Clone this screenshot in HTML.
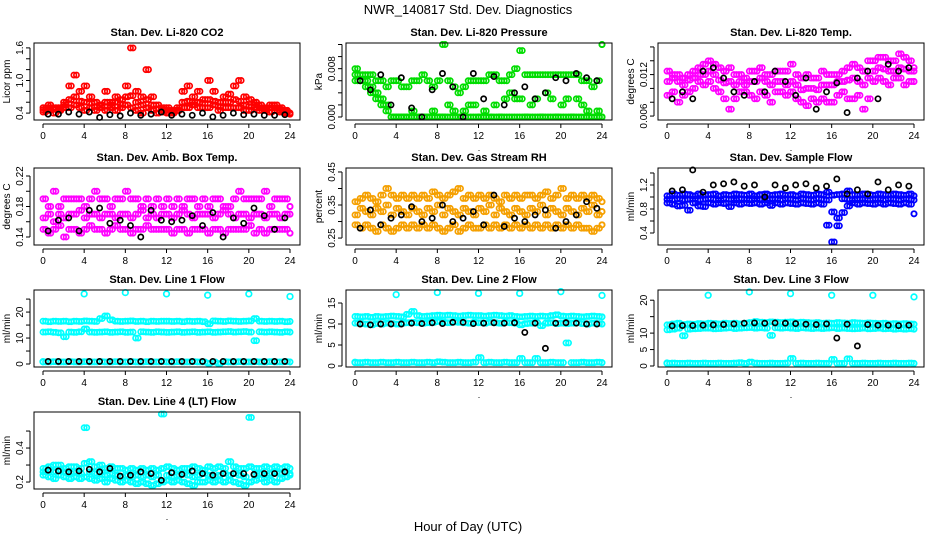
<!DOCTYPE html>
<html><head><meta charset="utf-8"><style>
body{margin:0;background:#fff}
svg{display:block;font-family:"Liberation Sans",sans-serif}
</style></head><body>
<svg id="c" width="936" height="540" viewBox="0 0 936 540">
<text x="468" y="14" text-anchor="middle" font-size="13">NWR_140817  Std. Dev. Diagnostics</text>
<text x="468" y="531" text-anchor="middle" font-size="13">Hour of Day (UTC)</text>
</svg>
<script>
// ---- data (half-hourly colored series t=0..24 step 0.5; black series t=0.5..23.5 hourly) ----
const hoursTicks=[0,4,8,12,16,20,24];
const co2Hi=[0.5,0.55,0.5,0.48,0.6,0.9,1.1,0.8,0.9,0.7,0.6,0.55,0.8,0.6,0.7,0.65,0.9,1.6,0.8,0.7,1.2,0.7,0.55,0.5,0.5,0.45,0.45,0.8,0.9,0.7,0.8,0.65,1.0,0.8,0.6,0.7,0.75,0.9,1.0,0.7,0.65,0.6,0.55,0.5,0.55,0.55,0.5,0.45,0.4];
const co2Lo=[0.42,0.45,0.4,0.45,0.5,0.5,0.55,0.5,0.45,0.5,0.45,0.5,0.45,0.5,0.45,0.5,0.55,0.5,0.45,0.4,0.5,0.45,0.4,0.42,0.4,0.4,0.45,0.5,0.5,0.55,0.5,0.5,0.5,0.55,0.45,0.5,0.5,0.5,0.5,0.45,0.45,0.5,0.45,0.45,0.42,0.45,0.42,0.4,0.38];
const co2Mid=[0.46,0.5,0.47,0.5,0.55,0.65,0.7,0.62,0.6,0.58,0.52,0.55,0.6,0.55,0.6,0.56,0.7,0.72,0.6,0.55,0.65,0.55,0.48,0.46,0.45,0.42,0.5,0.6,0.62,0.6,0.6,0.58,0.65,0.62,0.52,0.6,0.6,0.65,0.62,0.55,0.52,0.55,0.5,0.48,0.5,0.5,0.46,0.43,0.4];
const co2Blk=[0.38,0.38,0.42,0.38,0.42,0.32,0.37,0.35,0.4,0.36,0.38,0.42,0.36,0.38,0.36,0.4,0.33,0.36,0.4,0.37,0.38,0.36,0.36,0.37];
const prsHi=[0.008,0.007,0.007,0.007,0.006,0.006,0.005,0.006,0.006,0.005,0.005,0.006,0.006,0.007,0.006,0.005,0.006,0.012,0.006,0.005,0.004,0.005,0.006,0.006,0.006,0.006,0.007,0.007,0.006,0.006,0.007,0.008,0.011,0.007,0.007,0.007,0.007,0.007,0.007,0.007,0.007,0.007,0.007,0.007,0.006,0.006,0.005,0.006,0.012];
const prsLo=[0.006,0.006,0.005,0.005,0.004,0.003,0.002,0,0,0,0,0.001,0,0,0,0.001,0,0,0.002,0.001,0,0.001,0.002,0.002,0,0.001,0,0.002,0,0.003,0.004,0.003,0.003,0,0.002,0.003,0,0.004,0.003,0,0.002,0.003,0,0.003,0.002,0.001,0,0.001,0];
const prsMid=[0.007,0.006,0.006,0.004,0.003,0.002,0.001,0,0,0,0,0,0,0,0,0,0,0,0,0,0,0,0,0,0,0,0,0,0,0,0,0,0,0,0,0,0,0,0,0,0,0,0,0,0,0,0,0,0];
const prsBlk=[0.006,0.0045,0.007,0.002,0.0065,0.0015,0,0.0045,0.0072,0.005,0,0.0072,0.003,0.0067,0.002,0.004,0.005,0.003,0.004,0.0065,0.006,0.0072,0.0065,0.006];
const ltHi=[0.0125,0.012,0.012,0.0115,0.012,0.0125,0.013,0.0135,0.014,0.0135,0.013,0.0125,0.013,0.012,0.012,0.0115,0.0125,0.0125,0.013,0.012,0.012,0.0125,0.0125,0.0125,0.0135,0.012,0.0115,0.012,0.0115,0.0115,0.0125,0.012,0.012,0.012,0.0125,0.013,0.0135,0.013,0.0125,0.014,0.014,0.0145,0.0145,0.014,0.014,0.015,0.0145,0.014,0.013];
const ltLo=[0.009,0.0095,0.008,0.009,0.0095,0.01,0.011,0.0105,0.011,0.01,0.0095,0.0085,0.007,0.0085,0.0095,0.0095,0.009,0.0085,0.0095,0.009,0.008,0.0095,0.0095,0.009,0.0095,0.0085,0.008,0.0075,0.0085,0.008,0.0085,0.008,0.008,0.009,0.0095,0.0085,0.0085,0.009,0.007,0.0085,0.011,0.0115,0.011,0.0105,0.0115,0.0115,0.0105,0.011,0.011];
const ltMid=[0.011,0.0115,0.011,0.0105,0.0112,0.0115,0.012,0.012,0.0125,0.012,0.0112,0.0108,0.011,0.0105,0.011,0.0105,0.011,0.011,0.0115,0.011,0.0105,0.011,0.011,0.0105,0.011,0.0105,0.0098,0.01,0.01,0.0098,0.0105,0.0105,0.0105,0.011,0.011,0.0112,0.0115,0.011,0.0105,0.0115,0.0125,0.013,0.0128,0.0125,0.0125,0.013,0.0128,0.0125,0.0125];
const ltBlk=[0.0085,0.0095,0.0085,0.0125,0.013,0.0115,0.0095,0.009,0.011,0.0095,0.0125,0.011,0.009,0.0115,0.007,0.0095,0.0108,0.0065,0.0115,0.0125,0.0085,0.0135,0.0125,0.013];
const abHi=[0.19,0.18,0.2,0.18,0.19,0.19,0.19,0.19,0.18,0.19,0.2,0.19,0.19,0.18,0.19,0.19,0.2,0.19,0.19,0.18,0.19,0.18,0.19,0.18,0.19,0.18,0.19,0.18,0.19,0.19,0.18,0.19,0.18,0.19,0.19,0.18,0.18,0.19,0.2,0.19,0.19,0.19,0.19,0.2,0.18,0.19,0.19,0.19,0.18];
const abLo=[0.15,0.145,0.15,0.155,0.14,0.15,0.15,0.145,0.15,0.155,0.15,0.15,0.145,0.15,0.155,0.15,0.15,0.145,0.15,0.15,0.155,0.15,0.15,0.15,0.15,0.145,0.15,0.15,0.145,0.15,0.15,0.15,0.145,0.15,0.15,0.145,0.15,0.15,0.15,0.15,0.155,0.145,0.15,0.145,0.15,0.15,0.15,0.15,0.145];
const abMid=[0.165,0.17,0.16,0.17,0.165,0.17,0.17,0.175,0.165,0.17,0.17,0.165,0.17,0.17,0.165,0.17,0.17,0.165,0.17,0.175,0.165,0.17,0.165,0.17,0.17,0.165,0.17,0.175,0.17,0.165,0.17,0.17,0.17,0.165,0.17,0.175,0.17,0.165,0.17,0.17,0.165,0.17,0.17,0.165,0.17,0.17,0.165,0.17,0.17];
const abBlk=[0.148,0.162,0.165,0.148,0.175,0.178,0.158,0.162,0.155,0.14,0.175,0.162,0.16,0.162,0.168,0.155,0.172,0.14,0.165,0.158,0.178,0.168,0.15,0.165];
const rhHi=[0.36,0.37,0.38,0.37,0.36,0.38,0.4,0.38,0.37,0.38,0.37,0.38,0.37,0.38,0.37,0.39,0.38,0.37,0.38,0.39,0.4,0.37,0.38,0.37,0.38,0.37,0.38,0.37,0.36,0.38,0.37,0.38,0.37,0.38,0.38,0.37,0.38,0.39,0.37,0.38,0.4,0.37,0.38,0.37,0.38,0.37,0.38,0.37,0.36];
const rhLo=[0.29,0.28,0.29,0.28,0.27,0.29,0.28,0.27,0.28,0.29,0.28,0.29,0.28,0.29,0.28,0.29,0.28,0.27,0.28,0.29,0.27,0.28,0.29,0.28,0.28,0.29,0.28,0.29,0.28,0.29,0.28,0.29,0.28,0.29,0.28,0.29,0.28,0.29,0.28,0.29,0.28,0.29,0.28,0.29,0.28,0.28,0.27,0.28,0.29];
const rhMid=[0.32,0.34,0.33,0.32,0.34,0.33,0.35,0.32,0.34,0.33,0.32,0.34,0.33,0.32,0.34,0.33,0.35,0.32,0.34,0.33,0.32,0.34,0.33,0.32,0.34,0.33,0.35,0.32,0.34,0.33,0.32,0.34,0.33,0.32,0.34,0.33,0.35,0.32,0.34,0.33,0.32,0.34,0.33,0.32,0.34,0.33,0.35,0.32,0.33];
const rhBlk=[0.28,0.335,0.29,0.31,0.32,0.345,0.3,0.31,0.35,0.3,0.31,0.33,0.29,0.38,0.285,0.31,0.3,0.32,0.335,0.28,0.3,0.32,0.36,0.34];
const sfHi=[1.02,1.05,1.03,1.05,1.04,1.02,1.05,1.03,1.04,1.05,1.02,1.04,1.03,1.05,1.04,1.03,1.05,1.02,1.04,1.05,1.03,1.04,1.05,1.03,1.04,1.02,1.05,1.04,1.03,1.05,1.04,1.08,1.03,1.04,1.05,1.1,1.04,1.03,1.05,1.04,1.03,1.05,1.04,1.03,1.05,1.04,1.03,1.05,1.02];
const sfLo=[0.9,0.88,0.85,0.86,0.78,0.9,0.85,0.84,0.9,0.88,0.9,0.89,0.84,0.9,0.88,0.9,0.89,0.9,0.88,0.9,0.86,0.9,0.88,0.9,0.89,0.88,0.9,0.89,0.88,0.9,0.88,0.53,0.25,0.65,0.74,0.85,0.9,0.88,0.9,0.89,0.88,0.9,0.88,0.9,0.89,0.88,0.9,0.88,0.72];
const sfMid=[0.96,0.95,0.97,0.95,0.96,0.97,0.95,0.96,0.97,0.96,0.95,0.97,0.96,0.95,0.97,0.96,0.95,0.97,0.96,0.95,0.97,0.96,0.95,0.97,0.96,0.95,0.97,0.96,0.95,0.97,0.96,0.95,0.75,0.52,0.97,0.96,0.95,0.97,0.96,0.95,0.97,0.96,0.95,0.97,0.96,0.95,0.97,0.96,0.95];
const sfBlk=[1.1,1.12,1.45,1.08,1.2,1.22,1.25,1.18,1.2,1.0,1.2,1.15,1.2,1.22,1.15,1.18,1.3,1.05,1.12,1.05,1.25,1.12,1.2,1.18];
const l1Hi=[16.5,16.3,16.5,16.4,16.5,16.3,16.5,16.4,16.6,16.5,16.4,17.5,18.5,17,16.5,16.4,16.5,16.6,16.4,16.5,16.3,16.5,16.4,16.5,16.5,16.4,16.5,16.3,16.5,16.4,16.5,16.3,15.5,16.6,16.5,16.4,16.6,16.5,16.4,16.5,16.6,17.5,16.5,16.4,16.5,16.4,16.5,16.3,16.4];
const l1Mid=[12.3,12.4,12.2,12,10.5,12.3,12.2,12.4,13.5,12.3,12.2,12.3,12.4,12.2,12.3,12.4,12.2,12.3,10,12.4,12.3,12.2,12.4,12.3,12.2,12.3,12.4,12.2,12.3,12.4,12.2,12.3,12.4,12.2,12.3,12.4,12.5,12.3,12.4,12.5,12.3,9,12.4,12.3,12.4,12.3,12.2,12.4,12.3];
const l1Lo=[0.8,0.8,0.9,0.8,0.8,0.9,0.8,0.8,0.9,0.8,0.8,0.9,0.8,0.8,0.9,0.8,0.8,0.9,0.8,0.8,0.9,0.8,0.8,0.9,0.8,0.8,0.9,0.8,0.8,0.9,0.8,0.8,0.3,0.8,0.2,0.9,0.8,0.8,0.9,0.8,0.8,0.9,0.8,0.8,0.9,0.8,0.8,0.9,0.8];
const l1Spk=[0.9,27,27.5,27,26.5,27,26];
const l1Blk=[1,1,1,1,1,1,1,1,1,1,1,1,1,1,1,1,1,1,1,1,1,1,1,1];
const l2Hi=[11.8,11.7,11.8,11.6,11.8,11.7,11.8,11.9,11.8,11.7,12.3,13,12,11.8,11.9,12,12.1,12,12.1,12,11.9,12,12.1,12,12,11.9,12,12.1,12,11.9,12,11.8,11.7,11.8,11.9,11.8,11.9,11.8,12,12.2,11.9,11.8,11.9,11.8,11.7,11.8,11.9,11.8,11.7];
const l2Mid=[10.2,10.1,10,9.8,10.1,10,10.2,10.1,10,10.2,10.3,10.4,10.3,10.2,10.3,10.4,10.6,10.4,10.3,10.5,10.4,10.3,10.2,10.4,10.3,10.2,10.4,10.3,10.2,10.4,10.3,10.2,9.8,10.1,10.2,10.3,9.6,10.2,10.3,10.1,10.2,10.1,10.2,10.3,10.1,10,10.2,10.1,10];
const l2Lo=[0.8,0.8,0.9,0.8,0.8,0.9,0.8,0.8,0.9,0.8,0.8,0.9,0.8,0.8,0.9,0.8,1,0.9,0.8,0.8,0.9,0.8,0.8,0.9,2,0.8,0.9,0.8,0.8,0.9,0.8,0.8,1.8,0.8,0.8,1.8,0.8,0.8,0.9,0.8,0.8,5.5,0.8,0.8,0.9,0.8,0.8,0.9,0.8];
const l2Spk=[0.9,17,17.5,17.3,17.3,17.7,16.8];
const l2Blk=[10,9.8,10,10,10,10.2,10.1,10.3,10.1,10.4,10.4,10.1,10.2,10.3,10.2,10.3,8,10.2,4.2,10.2,10.3,10.2,10,10];
const l3Hi=[12.5,12.8,13,12.6,12.8,12.7,12.9,12.8,13,12.9,12.8,13,12.9,13,12.8,13,13.2,13.5,13.3,13.2,13.4,13.3,13.2,13.3,13.4,13.2,13.3,13.2,13.1,13.2,13,13.1,13,13.2,13.1,13,13.2,13.1,13,13.1,13,12.9,13,12.8,12.9,12.8,12.9,12.8,12.7];
const l3Mid=[11,11.2,11.5,9.2,11.2,11.3,11.4,11.5,11.5,11.3,11.4,11.5,11.6,11.4,11.5,11.6,11.7,11.5,11.6,11.5,9.3,11.6,11.5,11.6,11.5,11.4,11.6,11.5,11.4,11.5,11.4,11.5,11.6,11.4,11.5,11.4,11.3,11.4,11.5,11.3,11.4,11.5,11.3,11.4,11.2,11.3,11.2,11.3,11.2];
const l3Lo=[0.8,0.9,0.8,0.8,0.9,0.8,0.8,0.9,0.8,0.8,0.9,0.8,0.8,0.9,1,0.8,1.2,0.9,0.8,0.8,0.9,0.8,0.8,0.9,2.3,0.8,0.9,0.8,0.8,0.9,0.8,0.8,2,0.8,0.8,2.2,0.8,0.8,0.9,0.8,0.8,0.9,0.8,0.8,0.9,0.8,0.8,0.9,0.8];
const l3Spk=[0.9,21.5,22.5,22,21.5,21.5,21];
const l3Blk=[12.2,12.3,12.3,12.4,12.5,12.6,12.8,13,13.1,13,13.1,13,12.9,12.7,12.6,12.8,8.5,12.7,6.1,12.6,12.4,12.4,12.3,12.4];
const l4Hi=[0.28,0.29,0.3,0.3,0.28,0.29,0.29,0.28,0.31,0.32,0.29,0.3,0.28,0.29,0.28,0.28,0.27,0.28,0.27,0.28,0.27,0.28,0.27,0.28,0.29,0.28,0.27,0.28,0.28,0.29,0.28,0.27,0.29,0.28,0.29,0.28,0.32,0.29,0.28,0.28,0.29,0.28,0.28,0.29,0.28,0.29,0.28,0.29,0.28];
const l4Lo=[0.24,0.23,0.22,0.24,0.23,0.22,0.23,0.22,0.23,0.22,0.21,0.22,0.2,0.22,0.21,0.2,0.21,0.2,0.19,0.2,0.19,0.18,0.19,0.2,0.21,0.2,0.21,0.2,0.19,0.18,0.2,0.2,0.21,0.2,0.21,0.2,0.21,0.2,0.19,0.18,0.2,0.21,0.22,0.2,0.21,0.2,0.22,0.23,0.24];
const l4Mid=[0.26,0.27,0.26,0.27,0.26,0.25,0.26,0.25,0.52,0.26,0.25,0.26,0.24,0.25,0.24,0.23,0.24,0.23,0.24,0.23,0.24,0.23,0.24,0.6,0.24,0.23,0.24,0.25,0.24,0.23,0.24,0.25,0.24,0.23,0.24,0.25,0.24,0.25,0.24,0.23,0.58,0.24,0.25,0.24,0.25,0.26,0.25,0.26,0.25];
const l4Blk=[0.27,0.265,0.26,0.265,0.275,0.26,0.28,0.235,0.24,0.26,0.25,0.21,0.255,0.245,0.265,0.25,0.24,0.25,0.25,0.25,0.245,0.25,0.25,0.26];
// ---- tick labels ----
const p1Ticks=[0.4,0.6,0.8,1.0,1.2,1.4,1.6], p1Lab=["0.4","","","1.0","","","1.6"];
const p2Ticks=[0,0.002,0.004,0.006,0.008,0.010,0.012], p2Lab=["0.000","","","","0.008","",""];
const p3Ticks=[0.006,0.008,0.010,0.012,0.014,0.016], p3Lab=["0.006","","","0.012","",""];
const p4Ticks=[0.14,0.16,0.18,0.20,0.22], p4Lab=["0.14","","0.18","","0.22"];
const p5Ticks=[0.25,0.30,0.35,0.40,0.45], p5Lab=["0.25","","0.35","","0.45"];
const p6Ticks=[0.4,0.6,0.8,1.0,1.2,1.4], p6Lab=["0.4","","0.8","","1.2",""];
const p7Ticks=[0,5,10,15,20,25], p7Lab=["0","","10","","20",""];
const p8Ticks=[0,5,10,15], p8Lab=["0","5","10","15"];
const p9Ticks=[0,5,10,15,20], p9Lab=["0","5","10","","20"];
const p10Ticks=[0.2,0.3,0.4,0.5], p10Lab=["0.2","","0.4",""];

const NS="http://www.w3.org/2000/svg";
const svg=document.getElementById('c');
function mk(tag,attrs,parent){const e=document.createElementNS(NS,tag);for(const k in attrs)e.setAttribute(k,attrs[k]);(parent||svg).appendChild(e);return e;}
const colX=[34,346,658], rowY=[43,168,290,412], W=266, Hh=77;
const panels=[
 {t:"Stan. Dev. Li-820 CO2",yl:"Licor ppm",c:0,r:0,y0:0.273,y1:1.69,tk:p1Ticks,lb:p1Lab,col:"#ff0000",s:[co2Hi,co2Lo,co2Mid],b:co2Blk,n:"co2"},
 {t:"Stan. Dev. Li-820 Pressure",yl:"kPa",c:1,r:0,y0:-0.0005,y1:0.01225,tk:p2Ticks,lb:p2Lab,col:"#00dd00",s:[prsHi,prsLo,prsMid],b:prsBlk,n:"pressure"},
 {t:"Stan. Dev. Li-820 Temp.",yl:"degrees C",c:2,r:0,y0:0.00543,y1:0.01657,tk:p3Ticks,lb:p3Lab,col:"#ff00ff",s:[ltHi,ltLo,ltMid],b:ltBlk,n:"licor-temp"},
 {t:"Stan. Dev. Amb. Box Temp.",yl:"degrees C",c:0,r:1,y0:0.1295,y1:0.2305,tk:p4Ticks,lb:p4Lab,col:"#ff00ff",s:[abHi,abLo,abMid],b:abBlk,n:"box-temp"},
 {t:"Stan. Dev. Gas Stream RH",yl:"percent",c:1,r:1,y0:0.229,y1:0.462,tk:p5Ticks,lb:p5Lab,col:"#f5a000",s:[rhHi,rhLo,rhMid],b:rhBlk,n:"rh"},
 {t:"Stan. Dev. Sample Flow",yl:"ml/min",c:2,r:1,y0:0.2,y1:1.483,tk:p6Ticks,lb:p6Lab,col:"#0000ff",s:[sfHi,sfLo,sfMid],b:sfBlk,n:"sample-flow"},
 {t:"Stan. Dev. Line 1 Flow",yl:"ml/min",c:0,r:2,y0:-1.15,y1:28.5,tk:p7Ticks,lb:p7Lab,col:"#00ffff",s:[l1Hi,l1Mid,l1Lo],spk:l1Spk,b:l1Blk,n:"line1-flow"},
 {t:"Stan. Dev. Line 2 Flow",yl:"ml/min",c:1,r:2,y0:-0.24,y1:18.1,tk:p8Ticks,lb:p8Lab,col:"#00ffff",s:[l2Hi,l2Mid,l2Lo],spk:l2Spk,b:l2Blk,n:"line2-flow"},
 {t:"Stan. Dev. Line 3 Flow",yl:"ml/min",c:2,r:2,y0:-0.3,y1:23.1,tk:p9Ticks,lb:p9Lab,col:"#00ffff",s:[l3Hi,l3Mid,l3Lo],spk:l3Spk,b:l3Blk,n:"line3-flow"},
 {t:"Stan. Dev. Line 4 (LT) Flow",yl:"ml/min",c:0,r:3,y0:0.159,y1:0.612,tk:p10Ticks,lb:p10Lab,col:"#00ffff",s:[l4Hi,l4Lo,l4Mid],b:l4Blk,n:"line4-flow"}
];
panels.forEach(p=>{
 const L=colX[p.c], T=rowY[p.r], B=T+Hh;
 const g=mk('g',{});
 
 
 const xs=h=>L+9+h/24*(W-19);
 const ys=v=>B-(v-p.y0)/(p.y1-p.y0)*Hh;
 const title=mk('text',{x:L+W/2,y:T-7,'text-anchor':'middle','font-size':'11','font-weight':'bold'},g);
 title.textContent=p.t;
 
 
 const pts=mk('g',{fill:'none','stroke-width':'1.7'},g);
 
 
 p.s.forEach(arr=>arr.forEach((v,i)=>{
  const c=mk('circle',{cx:xs(i*0.5),cy:ys(v),r:2.6,stroke:p.col},pts);
  
  
  const c2=mk('circle',{cx:xs(Math.min(24,i*0.5+0.25)),cy:ys(v),r:2.6,stroke:p.col},pts);
  
  
 }));
 if(p.spk)p.spk.forEach((v,i)=>{
  const c=mk('circle',{cx:xs(i*4),cy:ys(v),r:2.8,stroke:p.col},pts);
  
  
 });
 p.b.forEach((v,i)=>{
  const c=mk('circle',{cx:xs(i+0.5),cy:ys(v),r:2.6,stroke:'#000'},pts);
  
  
 });
 const box=mk('rect',{x:L,y:T,width:W,height:Hh,fill:'none',stroke:'#000','stroke-width':'1'},g);
 
 
 // x axis
 const xa=mk('g',{stroke:'#000','stroke-width':'1'},g);
 
 
 mk('line',{x1:xs(0),x2:xs(24),y1:B+4,y2:B+4},xa);
 hoursTicks.forEach(h=>{
  mk('line',{x1:xs(h),x2:xs(h),y1:B+4,y2:B+8},xa);
  const t=mk('text',{x:xs(h),y:B+19,'text-anchor':'middle','font-size':'10',stroke:'none'},xa);
  t.textContent=h;
  
  
 });
 const dot=mk('text',{x:L+W/2,y:B+31,'text-anchor':'middle','font-size':'9',stroke:'none'},xa);dot.textContent='.';
 // y axis
 const ya=mk('g',{stroke:'#000','stroke-width':'1'},g);
 
 
 mk('line',{x1:L-4,x2:L-4,y1:ys(p.tk[0]),y2:ys(p.tk[p.tk.length-1])},ya);
 p.tk.forEach((v,i)=>{
  const y=ys(v);
  mk('line',{x1:L-8,x2:L-4,y1:y,y2:y},ya);
  if(p.lb[i]){
   const t=mk('text',{x:0,y:0,transform:`translate(${L-11},${y}) rotate(-90)`,'text-anchor':'middle','font-size':'10',stroke:'none'},ya);
   t.textContent=p.lb[i];
   
   
  }
 });
 const yt=mk('text',{x:0,y:0,transform:`translate(${L-24},${T+Hh/2}) rotate(-90)`,'text-anchor':'middle','font-size':'10'},g);
 yt.textContent=p.yl;
 
 
});
</script>
</body></html>
